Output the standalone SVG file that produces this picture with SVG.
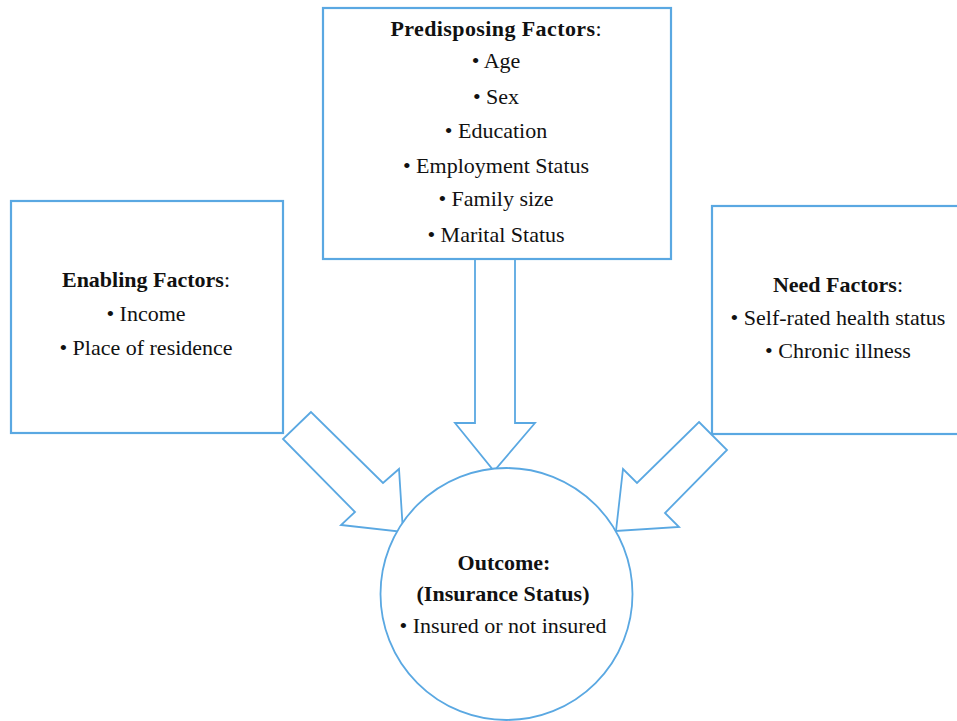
<svg xmlns="http://www.w3.org/2000/svg" width="957" height="721" viewBox="0 0 957 721">
<style>
.box{fill:#fff;stroke:#5aa8e2;stroke-width:2.2}
.arr{fill:#fff;stroke:#5aa8e2;stroke-width:1.8;stroke-linejoin:miter}
.t{font-family:'Liberation Serif','Times New Roman',serif;font-size:22px;fill:#111;text-anchor:middle}
.b{font-weight:bold}
.h{font-weight:bold;letter-spacing:0.4px}
</style>
<rect width="957" height="721" fill="#fff"/>
<g id="connectors">
<polygon class="arr" points="475,259 475,423 455,423 494,471 535,423 515,423 515,259"/>
<polygon class="arr" points="311,412 283,439 355,512 341,525 403,532 399,469 383,483"/>
<polygon class="arr" points="699,422 727,450 665,513 679,527 616,531 623,469 637,483"/>
</g>
<g id="predisposing">
<rect class="box" x="323" y="8" width="348" height="251"/>
<text class="t" x="496" y="36"><tspan class="h">Predisposing Factors</tspan>:</text>
<text class="t" x="496" y="68">• Age</text>
<text class="t" x="496" y="104">• Sex</text>
<text class="t" x="496" y="138">• Education</text>
<text class="t" x="496" y="173">• Employment Status</text>
<text class="t" x="496" y="206">• Family size</text>
<text class="t" x="496" y="242">• Marital Status</text>
</g>
<g id="enabling">
<rect class="box" x="11" y="201" width="272" height="232"/>
<text class="t" x="146" y="287"><tspan class="b">Enabling Factors</tspan>:</text>
<text class="t" x="146" y="321">• Income</text>
<text class="t" x="146" y="355">• Place of residence</text>
</g>
<g id="need">
<rect class="box" x="712" y="206" width="260" height="228"/>
<text class="t" x="838" y="292"><tspan class="b">Need Factors</tspan>:</text>
<text class="t" x="838" y="325">• Self-rated health status</text>
<text class="t" x="838" y="358">• Chronic illness</text>
</g>
<g id="outcome">
<circle class="arr" cx="506.5" cy="594" r="126"/>
<text class="t b" x="504" y="570">Outcome:</text>
<text class="t b" x="503" y="601">(Insurance Status)</text>
<text class="t" x="503" y="633">• Insured or not insured</text>
</g>
</svg>
